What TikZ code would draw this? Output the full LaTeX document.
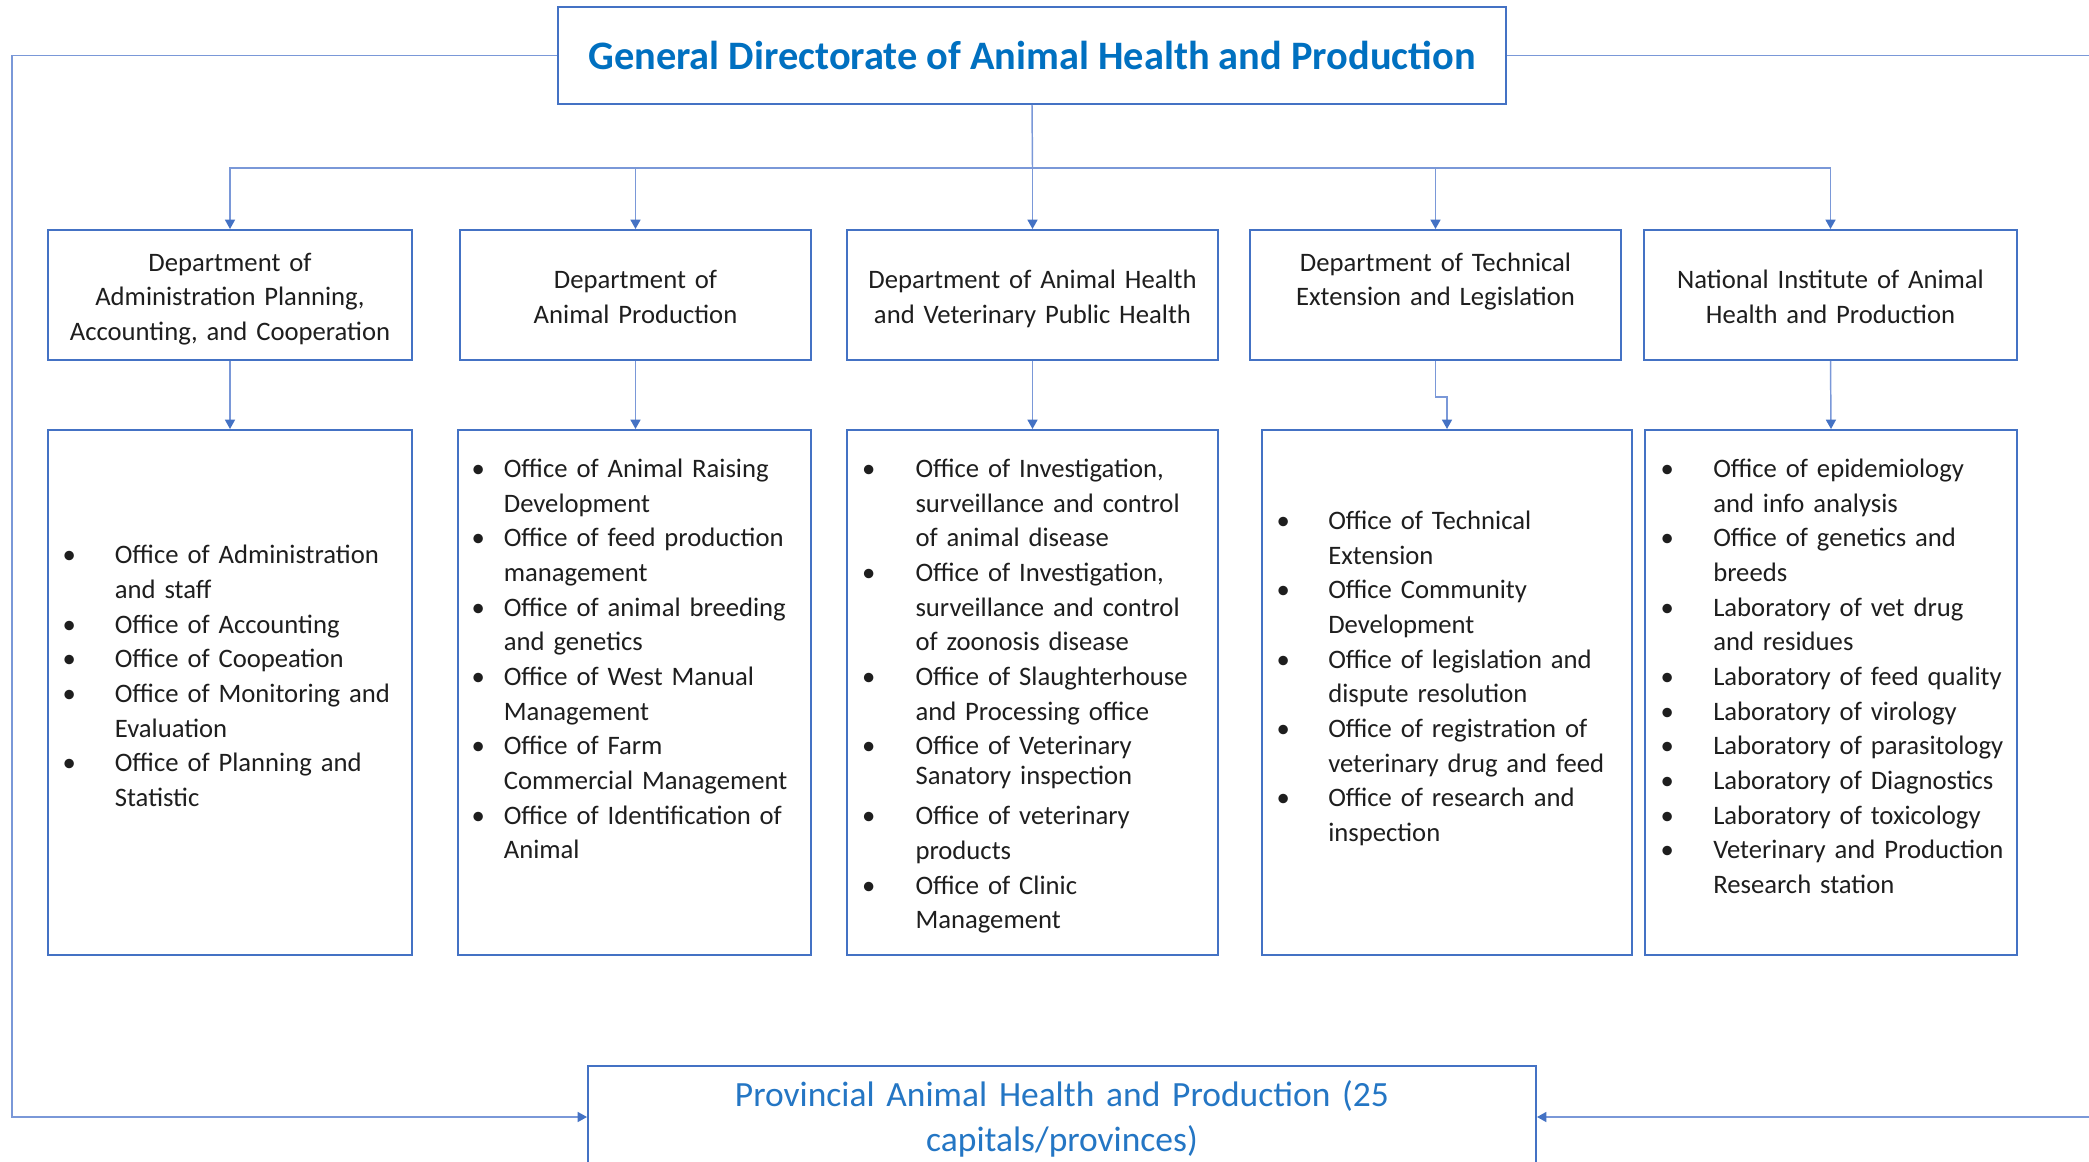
\documentclass[tikz,border=0pt]{standalone}
\usepackage{fontspec}
\setmainfont{Carlito}
\usetikzlibrary{arrows.meta}
\definecolor{bordc}{RGB}{68,114,196}
\definecolor{connc}{RGB}{122,152,216}
\definecolor{titlec}{RGB}{0,112,192}
\definecolor{provc}{RGB}{36,118,196}
\definecolor{txtc}{RGB}{30,30,30}
\newcommand{\itm}[2]{\par\hangindent=#1\hangafter=1\noindent\strut\makebox[#1][l]{\makebox[0pt][c]{\textbullet}}#2\strut}
\newcommand{\tstrut}{\rule{0pt}{24.2pt}}
\begin{document}
\begin{tikzpicture}[x=0.75pt,y=-0.75pt,
  box/.style={draw=bordc,line width=1.5pt,fill=white,inner sep=0pt,rectangle},
  dbox/.style={box,minimum height=97.5pt,text width=270pt,align=center,text=txtc,font=\fontsize{20}{26}\selectfont},
  obox/.style={box,minimum height=393.75pt},
  lst/.style={anchor=north west,inner sep=0pt,text width=320pt,align=left,text=txtc,font=\fontsize{20}{26}\selectfont},
  conn/.style={draw=connc,line width=1.1pt},
  arr/.style={conn,-{Triangle[width=7.5pt,length=7pt,color=bordc]}}]
\useasboundingbox (0,0) rectangle (2089,1162);
\clip (0,0) rectangle (2089,1162);
\fill[white] (0,0) rectangle (2089,1162);

% top box
\node[box,minimum width=711pt,minimum height=72.75pt,text=titlec,font=\fontsize{30.3}{36}\selectfont\bfseries] (top) at (1032,55.5) {General Directorate of Animal Health and Production};

% bottom box
\node[box,minimum width=711pt,minimum height=76.5pt,text width=700pt,align=center,text=provc,font=\fontsize{26.6}{34}\selectfont] (prov) at (1062,1117) {\rule{0pt}{27.8pt}Provincial Animal Health and Production (25\\capitals/provinces)\strut};

% department boxes
\node[dbox,minimum width=273pt] (d1) at (230,295) {\tstrut Department of\\Administration Planning,\\Accounting, and Cooperation\strut};
\node[dbox,minimum width=263.25pt,text width=260pt] (d2) at (635.5,295) {\tstrut Department of\\Animal Production\strut};
\node[dbox,minimum width=278.25pt] (d3) at (1032.5,295) {\tstrut Department of Animal Health\\and Veterinary Public Health\strut};
\node[dbox,minimum width=278.25pt] (d4) at (1435.5,295) {\tstrut Department of Technical\\Extension and Legislation\\\strut};
\node[dbox,minimum width=279.75pt] (d5) at (1830.5,295) {\tstrut National Institute of Animal\\Health and Production\strut};

% office boxes
\node[obox,minimum width=273pt] (o1) at (230,692.5) {};
\node[obox,minimum width=264.75pt] (o2) at (634.5,692.5) {};
\node[obox,minimum width=278.25pt] (o3) at (1032.5,692.5) {};
\node[obox,minimum width=277.5pt] (o4) at (1447,692.5) {};
\node[obox,minimum width=279pt] (o5) at (1831,692.5) {};

% lists
\node[lst] (l1) at (69,529) {%
\itm{34.2pt}{Office of Administration\newline and staff}
\itm{34.2pt}{Office of Accounting}
\itm{34.2pt}{Office of Coopeation}
\itm{34.2pt}{Office of Monitoring and\newline Evaluation}
\itm{34.2pt}{Office of Planning and\newline Statistic}\par};

\node[lst] (l2) at (478,442.6) {%
\itm{19.2pt}{Office of Animal Raising\newline Development}
\itm{19.2pt}{Office of feed production\newline management}
\itm{19.2pt}{Office of animal breeding\newline and genetics}
\itm{19.2pt}{Office of West Manual\newline Management}
\itm{19.2pt}{Office of Farm\newline Commercial Management}
\itm{19.2pt}{Office of Identification of\newline Animal}\par};

\node[lst] (l3) at (868.6,442.6) {%
\itm{35pt}{Office of Investigation,\newline surveillance and control\newline of animal disease}
\itm{35pt}{Office of Investigation,\newline surveillance and control\newline of zoonosis disease}
\itm{35pt}{Office of Slaughterhouse\newline and Processing office}
\itm{35pt}{Office of Veterinary\vspace{-3.5pt}\newline Sanatory inspection}
\par\vspace{4pt}
\itm{35pt}{Office of veterinary\newline products}
\itm{35pt}{Office of Clinic\newline Management}\par};

\node[lst] (l4) at (1283,494.6) {%
\itm{33.75pt}{Office of Technical\newline Extension}
\itm{33.75pt}{Office Community\newline Development}
\itm{33.75pt}{Office of legislation and\newline dispute resolution}
\itm{33.75pt}{Office of registration of\newline veterinary drug and feed}
\itm{33.75pt}{Office of research and\newline inspection}\par};

\node[lst] (l5) at (1667,442.6) {%
\itm{34.5pt}{Office of epidemiology\newline and info analysis}
\itm{34.5pt}{Office of genetics and\newline breeds}
\itm{34.5pt}{Laboratory of vet drug\newline and residues}
\itm{34.5pt}{Laboratory of feed quality}
\itm{34.5pt}{Laboratory of virology}
\itm{34.5pt}{Laboratory of parasitology}
\itm{34.5pt}{Laboratory of Diagnostics}
\itm{34.5pt}{Laboratory of toxicology}
\itm{34.5pt}{Veterinary and Production\newline Research station}\par};

% connectors
\coordinate (bus) at (1032.5,168);
\draw[conn] (top.south) -- (bus);
\draw[arr] (bus) -| (d1.north);
\draw[arr] (bus) -| (d2.north);
\draw[arr] (bus) -- (d3.north);
\draw[arr] (bus) -| (d4.north);
\draw[arr] (bus) -| (d5.north);

\draw[arr] (d1.south) -- (o1.north);
\draw[arr] (d2.south) -- (d2.south |- o2.north);
\draw[arr] (d3.south) -- (o3.north);
\draw[arr] (d4.south) -- ++(0,36) -| (o4.north);
\draw[arr] (d5.south) -- (o5.north);

\coordinate (ltop) at (12,55.5);
\coordinate (lbot) at (12,1117);
\coordinate (rtop) at (2100,55.5);
\coordinate (rbot) at (2100,1117);
\draw[arr] (top.west) -- (ltop) -- (lbot) -- (prov.west);
\draw[arr] (top.east) -- (rtop) -- (rbot) -- (prov.east);
\end{tikzpicture}
\end{document}
